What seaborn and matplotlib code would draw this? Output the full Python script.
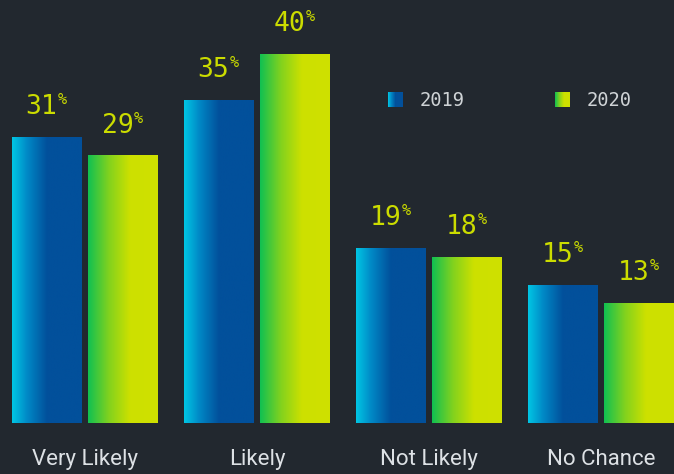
import numpy as np
import pandas as pd
import matplotlib
matplotlib.use("Agg")
import matplotlib.pyplot as plt
import seaborn as sns
from matplotlib.colors import LinearSegmentedColormap
from matplotlib.legend_handler import HandlerBase
from matplotlib.image import BboxImage
from matplotlib.transforms import Bbox, TransformedBbox
from matplotlib.patches import Patch

categories = ["Very Likely", "Likely", "Not Likely", "No Chance"]
years = ["2019", "2020"]
values_2019 = [31, 35, 19, 15]
values_2020 = [29, 40, 18, 13]

df = pd.DataFrame({
    "category": categories * 2,
    "year": [years[0]] * len(categories) + [years[1]] * len(categories),
    "value": values_2019 + values_2020,
})

BG = "#22282f"
LABEL = "#cbdc00"
TEXT = "#dde1e5"

cmaps = {
    "2019": LinearSegmentedColormap.from_list(
        "blue", [(0.0, "#00c6e4"), (0.22, "#0088c6"), (0.5, "#02509b"), (1.0, "#02509b")]),
    "2020": LinearSegmentedColormap.from_list(
        "green", [(0.0, "#10c052"), (0.3, "#82d21e"), (0.6, "#cde000"), (1.0, "#cfe100")]),
}

sns.set_theme(style="dark", rc={
    "axes.facecolor": BG,
    "figure.facecolor": BG,
    "axes.edgecolor": BG,
})

W, H = 674, 474
fig = plt.figure(figsize=(W / 100, H / 100), dpi=100, facecolor=BG)
baseline_px = 423
ax = fig.add_axes([0, (H - baseline_px) / H, 1, baseline_px / H])

group_px = 172
sns.barplot(data=df, x="category", y="value", hue="year", order=categories,
            hue_order=years, width=152 / group_px, gap=6 / 76, ax=ax,
            legend=False, palette=["#02509b", "#cde000"], saturation=1,
            edgecolor="none", linewidth=0)

grad = np.linspace(0, 1, 256).reshape(1, -1)
for year, container in zip(years, ax.containers):
    for bar in container:
        x, w, h = bar.get_x(), bar.get_width(), bar.get_height()
        im = ax.imshow(grad, extent=[x, x + w, 0, h], aspect="auto",
                       cmap=cmaps[year], interpolation="bilinear",
                       zorder=bar.get_zorder() + 0.1)
        im.set_clip_path(bar)
        bar.set_facecolor("none")
        cx = x + w / 2
        ax.annotate(f"{h:.0f}", xy=(cx, h), xytext=(7.5, 16.5),
                    textcoords="offset points", ha="right", va="baseline",
                    fontsize=19, family="DejaVu Sans Mono", color=LABEL)
        ax.annotate("%", xy=(cx, h), xytext=(8.0, 23.5),
                    textcoords="offset points", ha="left", va="baseline",
                    fontsize=11, family="DejaVu Sans Mono", color=LABEL)

ax.set_xlim(-85 / group_px, (W - 85) / group_px)
ax.set_ylim(0, baseline_px / 9.225)
ax.set_xlabel("")
ax.set_ylabel("")
ax.set_yticks([])
ax.tick_params(axis="x", length=0, pad=19, labelsize=16, labelcolor=TEXT)
for lbl in ax.get_xticklabels():
    lbl.set_family("Roboto")
    lbl.set_fontweight("normal")
for s in ax.spines.values():
    s.set_visible(False)
ax.grid(False)


class GradientHandler(HandlerBase):
    def __init__(self, cmap):
        super().__init__()
        self.cmap = cmap

    def create_artists(self, legend, orig_handle, xdescent, ydescent,
                       width, height, fontsize, trans):
        side = min(width, height)
        bb = Bbox.from_bounds(-xdescent, -ydescent + (height - side) / 2, side, side)
        img = BboxImage(TransformedBbox(bb, trans), cmap=self.cmap,
                        interpolation="bilinear")
        img.set_data(grad)
        return [img]


handles = [Patch(label=y) for y in years]
fs = 13.5
leg = ax.legend(handles=handles, labels=years, ncol=2, frameon=False,
                loc="center left", bbox_to_anchor=(388 / W, 1 - 100 / H),
                bbox_transform=fig.transFigure,
                handler_map={h: GradientHandler(cmaps[y]) for h, y in zip(handles, years)},
                handlelength=16 / 18.75, handleheight=16 / 18.75, handletextpad=0.85,
                columnspacing=4.8, borderpad=0, borderaxespad=0,
                prop={"family": "DejaVu Sans Mono", "size": fs})
for t in leg.get_texts():
    t.set_color("#cfd3d6")

fig.savefig("out.png", dpi=100, facecolor=BG)
